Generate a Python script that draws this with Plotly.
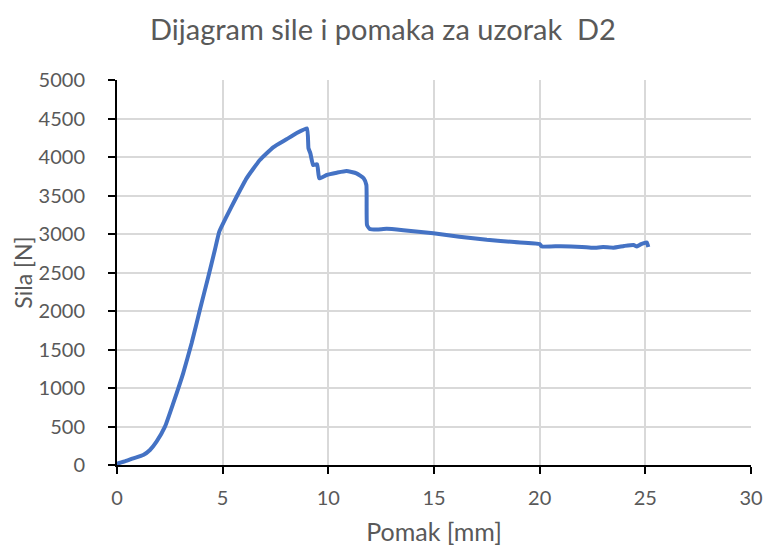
import plotly.graph_objects as go

pomak_mm = [0.0, 0.06, 0.4, 0.77, 1.24, 1.56, 1.87, 2.27, 2.66, 3.13, 3.53, 3.92, 4.32, 4.63, 4.84,
            5.18, 5.66, 6.13, 6.76, 7.39, 8.02, 8.49, 8.99, 9.06, 9.15, 9.28, 9.47, 9.57, 9.92,
            10.4, 10.86, 11.33, 11.67, 11.8, 11.83, 11.96, 12.3, 12.76, 13.55, 14.97, 16.2, 17.5,
            18.8, 20.0, 20.1, 21.0, 22.0, 22.54, 23.0, 23.49, 24.0, 24.44, 24.6, 24.8, 25.07, 25.14]
sila_n = [0, 22, 50, 87, 130, 195, 303, 498, 801, 1191, 1580, 2013, 2446, 2792, 3030,
          3225, 3484, 3723, 3961, 4126, 4230, 4308, 4372, 4113, 4048, 3896, 3905, 3723, 3766,
          3796, 3818, 3788, 3723, 3636, 3117, 3065, 3058, 3068, 3050, 3009, 2965, 2925,
          2895, 2870, 2838, 2842, 2832, 2820, 2830, 2822, 2845, 2858, 2838, 2868, 2890, 2830]

fig = go.Figure()
fig.add_trace(go.Scatter(x=pomak_mm, y=sila_n, mode="lines",
                         line=dict(color="#4472C4", width=4, shape="spline", smoothing=0.4),
                         showlegend=False))

font_fam = "Lato"
grey = "#595959"
fig.update_layout(
    width=766, height=546,
    margin=dict(l=117, r=15, t=80, b=81),
    paper_bgcolor="white", plot_bgcolor="white",
    title=dict(text="Dijagram sile i pomaka za uzorak  D2", x=0.5, xanchor="center",
               xref="container", y=1 - 30/546, yanchor="middle",
               font=dict(family=font_fam, size=29, color=grey)),
    font=dict(family=font_fam, color=grey, size=20),
)
fig.update_xaxes(range=[0, 30], dtick=5, showgrid=True, gridcolor="#d9d9d9", gridwidth=1.5,
                 showline=True, linecolor="black", linewidth=2, ticks="outside", ticklen=7,
                 tickwidth=2, tickcolor="black", zeroline=False, automargin=False,
                 ticklabelstandoff=7,
                 title=dict(text="Pomak [mm]", font=dict(size=25, color=grey), standoff=16),
                 tickfont=dict(size=20, color=grey))
fig.update_yaxes(range=[0, 5000], dtick=500, showgrid=True, gridcolor="#d9d9d9", gridwidth=1.5,
                 showline=True, linecolor="black", linewidth=2, ticks="outside", ticklen=7,
                 tickwidth=2, tickcolor="black", zeroline=False, automargin=False,
                 ticklabelstandoff=19,
                 title=dict(text="Sila [N]", font=dict(size=23, color=grey), standoff=0),
                 tickfont=dict(size=20, color=grey))

fig.write_html("out.html", config={"displayModeBar": False},
               post_script="document.body.style.margin='0';document.body.style.overflow='hidden';")
